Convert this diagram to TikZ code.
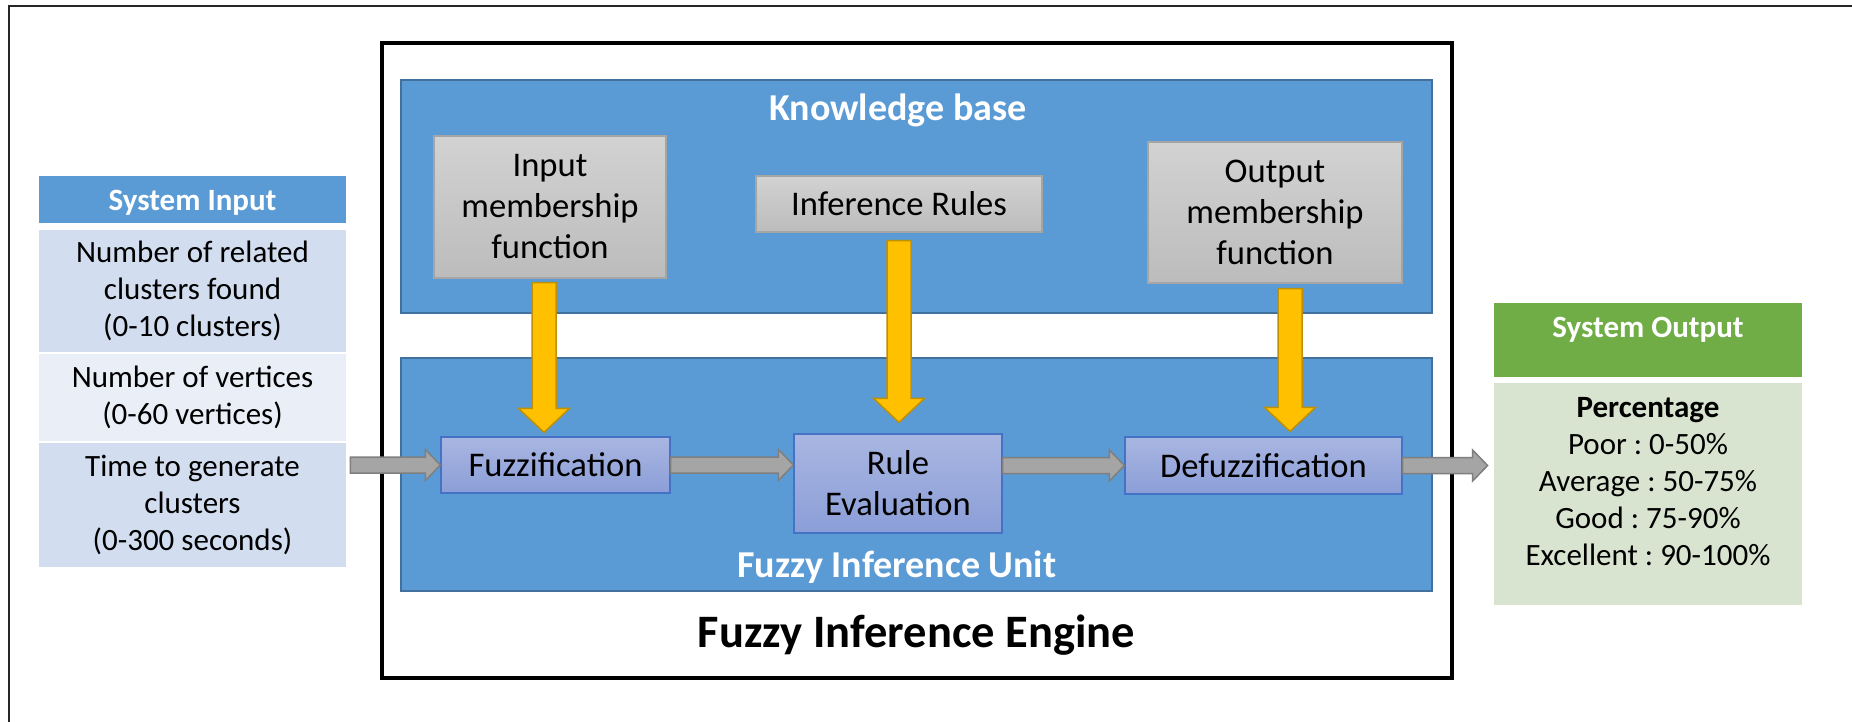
\documentclass[tikz,border=0pt]{standalone}
\usepackage{fontspec}
\setmainfont{Carlito}
\frenchspacing
\usetikzlibrary{calc}
\definecolor{kbblue}{HTML}{5B9BD5}
\definecolor{kbedge}{HTML}{41719C}
\definecolor{procedge}{HTML}{4472C4}
\definecolor{proctop}{HTML}{A9B6E2}
\definecolor{procbot}{HTML}{8B9ED7}
\definecolor{greytop}{HTML}{D2D2D2}
\definecolor{greybot}{HTML}{BCBCBC}
\definecolor{greyedge}{HTML}{A5A5A5}
\definecolor{rowdark}{HTML}{D2DEEF}
\definecolor{rowlight}{HTML}{E9EEF7}
\definecolor{outgreen}{HTML}{70AD47}
\definecolor{outbg}{HTML}{D8E4D0}
\definecolor{flowgrey}{HTML}{A5A5A5}
\definecolor{flowedge}{HTML}{7F7F7F}
\definecolor{gold}{HTML}{FFC000}
\definecolor{goldedge}{HTML}{BF9000}

\begin{document}
\begin{tikzpicture}[
 x=0.5pt,y=-0.5pt,
 body/.style={font=\fontsize{17.3}{20.5}\selectfont,align=center},
 cell/.style={font=\fontsize{15.5}{18.5}\selectfont,align=center,inner sep=0pt},
 head/.style={font=\bfseries\fontsize{15.5}{18.5}\selectfont,text=white,inner sep=0pt},
 title/.style={font=\bfseries\fontsize{19}{22}\selectfont,text=white,anchor=base},
 panel/.style={fill=kbblue,draw=kbedge,line width=.75pt,inner sep=0pt},
 kbitem/.style={body,top color=greytop,bottom color=greybot,draw=greyedge,line width=.6pt,inner sep=0pt},
 stage/.style={body,top color=proctop,bottom color=procbot,draw=procedge,line width=.6pt,inner sep=0pt},
 flow/.style={fill=flowgrey,draw=flowedge,line width=.75pt,
   to path={let \p1=(\tikztostart),\p2=(\tikztotarget) in
     (\x1,\y1+4pt)--(\x2-7.5pt,\y1+4pt)--(\x2-7.5pt,\y1+7.75pt)--(\x2,\y1)
     --(\x2-7.5pt,\y1-7.75pt)--(\x2-7.5pt,\y1-4pt)--(\x1,\y1-4pt)--cycle}},
 feed/.style={fill=gold,draw=goldedge,line width=.75pt,
   to path={let \p1=(\tikztostart),\p2=(\tikztotarget) in
     (\x1-6pt,\y1)--(\x1-6pt,\y2+12pt)--(\x1-12.75pt,\y2+12pt)--(\x1,\y2)
     --(\x1+12.75pt,\y2+12pt)--(\x1+6pt,\y2+12pt)--(\x1+6pt,\y1)--cycle}}
]
\useasboundingbox (0,0) rectangle (1852,722);
\fill[white] (0,0) rectangle (1852,722);
\draw[black!85,line width=1.2pt] (9,722) -- (9,6) -- (1852,6);

% System input table.
\node[head,fill=kbblue,minimum width=153.5pt,text height=17pt,text depth=6.5pt] (sihead) at (192.5,199.5) {System Input};
\node[cell,fill=rowdark,minimum width=153.5pt,minimum height=61pt] (sirow1) at (192.5,291) {Number of related\\clusters found\\(0-10 clusters)};
\node[cell,fill=rowlight,minimum width=153.5pt,minimum height=43.5pt] (sirow2) at (192.5,397.5) {Number of vertices\\(0-60 vertices)};
\node[cell,fill=rowdark,minimum width=153.5pt,minimum height=62pt] (sirow3) at (192.5,505) {Time to generate\\clusters\\(0-300 seconds)};

% Engine frame.
\node[draw=black,line width=2pt,minimum width=535pt,minimum height=317.5pt,inner sep=0pt] (engine) at (917,360.5) {};
\node[font=\bfseries\fontsize{23.25}{26}\selectfont,anchor=base] (enginetitle) at (916.5,647) {Fuzzy Inference Engine};

% Knowledge base.
\node[panel,minimum width=515.5pt,minimum height=116.5pt] (kb) at (916.5,196.5) {};
\node[title] (kbtitle) at (898,120) {Knowledge base};
\node[kbitem,minimum width=116pt,minimum height=71pt] (inmf) at (550,207) {Input\\membership\\function};
\node[kbitem,minimum width=143pt,minimum height=28pt] (rules) at (899,204) {Inference Rules};
\node[kbitem,minimum width=127pt,minimum height=70.5pt] (outmf) at (1275,212.5) {Output\\membership\\function};

% Fuzzy inference unit.
\node[panel,minimum width=515.5pt,minimum height=116.5pt] (fiu) at (916.5,474.5) {};
\node[title] (fiutitle) at (897,577) {Fuzzy Inference Unit};
\node[stage,minimum width=114.5pt,minimum height=28pt] (fuzz) at (555.5,465) {Fuzzification};
\node[stage,minimum width=104pt,minimum height=49.5pt] (rule) at (898,483.5) {Rule\\Evaluation};
\node[stage,minimum width=138.5pt,minimum height=28.5pt] (defuzz) at (1263.5,465.5) {Defuzzification};

% System output table.
\node[head,fill=outgreen,minimum width=154pt,text height=12pt,text depth=15pt,inner ysep=5pt] (sohead) at (1648,340) {System Output};
\node[fill=outbg,minimum width=154pt,minimum height=111pt,inner sep=0pt] (sobody) at (1648,494) {};
\node[cell] (sotext) at (1648,481.5) {\textbf{Percentage}\\Poor : 0-50\%\\Average : 50-75\%\\Good : 75-90\%\\Excellent : 90-100\%};

% Main flow, left to right.
\draw[flow] ($(sirow3.east |- fuzz.west)+(4,0)$) to (fuzz.west);
\draw[flow] (fuzz.east) to (rule.west |- fuzz.east);
\draw[flow] (rule.east |- defuzz.west) to (defuzz.west);
\draw[flow] (defuzz.east) to ($(sobody.west |- defuzz.east)+(-6,0)$);

% Knowledge base feeds the unit.
\draw[feed] ($(inmf.south)+(-6,4)$) to ($(fuzz.north)+(0,-4)$);
\draw[feed] ($(rules.south)+(0,8)$) to ($(rule.north)+(0,-11)$);
\draw[feed] ($(outmf.south)+(15,5)$) to ($(defuzz.north)+(0,-5)$);
\end{tikzpicture}
\end{document}
